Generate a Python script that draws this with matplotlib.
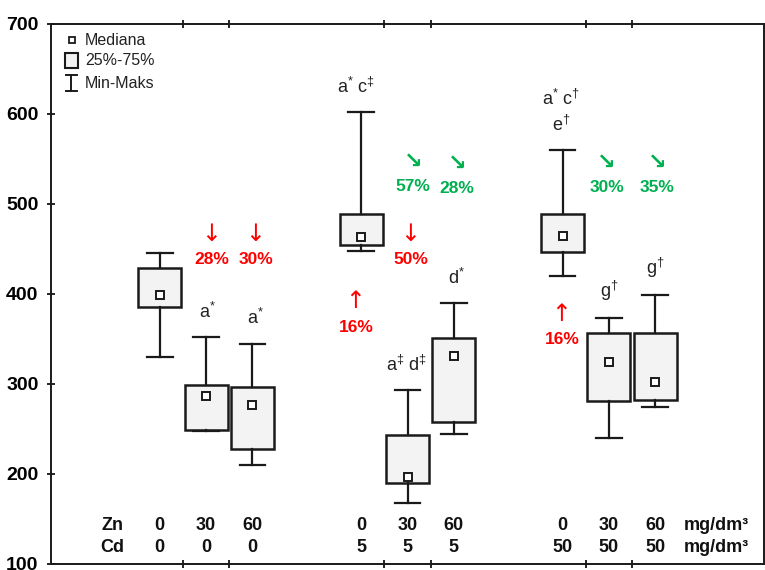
import matplotlib
matplotlib.use("Agg")
import matplotlib.pyplot as plt
from matplotlib.patches import Rectangle
from matplotlib import font_manager as fm

# ---------------- data ----------------
zn_labels = ["0", "30", "60", "0", "30", "60", "0", "30", "60"]
cd_labels = ["0", "0", "0", "5", "5", "5", "50", "50", "50"]
medians = [399, 287, 277, 463, 197, 331, 464, 324, 302]
q1 = [386, 249, 228, 454, 190, 258, 447, 281, 282]
q3 = [429, 299, 297, 489, 243, 351, 489, 357, 357]
mins = [330, 248, 210, 448, 168, 245, 420, 240, 275]
maxs = [446, 352, 345, 602, 293, 390, 560, 373, 399]
sig_labels = ["", "a*", "a*", "a* c‡", "a‡ d‡", "d*", "a* c†\ne†", "g†", "g†"]
# percent changes: (box index, text, direction)
pct_red = [(1, "28%", "down"), (2, "30%", "down"), (4, "50%", "down"),
           (3, "16%", "up"), (6, "16%", "up")]
pct_green = [(4, "57%"), (5, "28%"), (7, "30%"), (8, "35%")]

# ---------------- fonts ----------------
avail = {f.name for f in fm.fontManager.ttflist}
base = "Liberation Sans Narrow" if "Liberation Sans Narrow" in avail else "Liberation Sans"
plt.rcParams['font.family'] = [base, 'Liberation Sans', 'DejaVu Sans']
plt.rcParams['mathtext.fontset'] = 'custom'
plt.rcParams['mathtext.rm'] = 'Liberation Sans'
plt.rcParams['mathtext.it'] = 'Liberation Sans'

RED = "#FF0000"
GREEN = "#00B050"

fig = plt.figure(figsize=(7.65, 5.70), dpi=100)
ax = fig.add_axes([51/765, 6/570, 713/765, 540/570])

group_starts = [2.35, 6.7, 11.05]
pos = [g + i for g in group_starts for i in range(3)]

stats = []
for i in range(9):
    stats.append(dict(med=medians[i], q1=q1[i], q3=q3[i],
                      whislo=mins[i], whishi=maxs[i], fliers=[]))
ax.bxp(stats, positions=pos, widths=0.93, capwidths=0.55, patch_artist=True,
       showfliers=False,
       boxprops=dict(facecolor="#F3F3F3", edgecolor="#1a1a1a", linewidth=1.8),
       whiskerprops=dict(color="#1a1a1a", linewidth=1.6),
       capprops=dict(color="#1a1a1a", linewidth=1.6),
       medianprops=dict(linewidth=0))
ax.plot(pos, medians, ls="none", marker="s", ms=5.5, mfc="white",
        mec="#1a1a1a", mew=1.4, zorder=5)

ax.set_xlim(0, 15.4)
ax.set_ylim(100, 700)
ax.set_yticks(range(100, 701, 100))
ax.set_yticklabels([str(v) for v in range(100, 701, 100)],
                   fontsize=14, fontweight="bold")
tick_x = [g + 0.5 + k for g in group_starts for k in range(2)]
ax.set_xticks(tick_x)
ax.set_xticklabels([])
ax.tick_params(axis="both", direction="inout", length=6, width=1.2,
               top=True, right=False, pad=6)
for s in ax.spines.values():
    s.set_linewidth(1.4)
    s.set_color("#1a1a1a")

# significance letters
sig_off = [0, 0.02, 0.06, -0.11, -0.03, 0.05, -0.03, 0.0, 0.0]
for i, lab in enumerate(sig_labels):
    if not lab:
        continue
    lines = lab.split("\n")
    y0 = maxs[i] + 17
    for j, ln in enumerate(reversed(lines)):
        parts = ln.split(" ")
        mt = r"\ ".join(p[0] + "^{" + p[1:] + "}" for p in parts)
        ax.text(pos[i] + sig_off[i], y0 + j * 29, "$\\mathregular{" + mt + "}$",
                ha="center", va="bottom", fontsize=13, color="#222222")

# percent annotations
red_off = {1: 0.13, 2: 0.08, 4: 0.08, 3: -0.1, 6: 0.0}
red_y = {1: 438, 2: 438, 4: 438, 3: 363, 6: 349}
for i, txt, d in pct_red:
    x = pos[i] + red_off[i]
    y = red_y[i]
    ax.text(x, y, txt, ha="center", va="center", fontsize=12.5,
            fontweight="bold", color=RED, family=['Liberation Sans'])
    ax.text(x - 0.03, y + 29, "↓" if d == "down" else "↑", ha="center",
            va="center", fontsize=17, color=RED, family=['DejaVu Sans'])
green_off = {4: 0.12, 5: 0.07, 7: -0.05, 8: 0.05}
green_y = {4: 519, 5: 517, 7: 518, 8: 518}
for i, txt in pct_green:
    x = pos[i] + green_off[i]
    y = green_y[i]
    ax.text(x, y, txt, ha="center", va="center", fontsize=12.5,
            fontweight="bold", color=GREEN, family=['Liberation Sans'])
    ax.text(x, y + 28, "↘", ha="center", va="center", fontsize=16,
            fontweight="bold", color=GREEN, family=['DejaVu Sans'])

# Zn / Cd labels row
for i in range(9):
    ax.text(pos[i], 143, zn_labels[i], ha="center", va="center",
            fontsize=13, fontweight="bold", color="#111111")
    ax.text(pos[i], 118, cd_labels[i], ha="center", va="center",
            fontsize=13, fontweight="bold", color="#111111")
ax.text(1.32, 143, "Zn", ha="center", va="center", fontsize=13,
        fontweight="bold", color="#111111")
ax.text(1.32, 118, "Cd", ha="center", va="center", fontsize=13,
        fontweight="bold", color="#111111")
ax.text(14.36, 143, "mg/dm³", ha="center", va="center", fontsize=13,
        fontweight="bold", color="#111111")
ax.text(14.36, 118, "mg/dm³", ha="center", va="center", fontsize=13,
        fontweight="bold", color="#111111")

# legend (manual)
T = ax.transAxes
ax.plot([0.029], [0.970], transform=T, marker="s", ms=5, mfc="white",
        mec="#1a1a1a", mew=1.3, clip_on=False)
ax.text(0.048, 0.970, "Mediana", transform=T, va="center", ha="left",
        fontsize=11.5, color="#222222", family=['Liberation Sans'])
ax.add_patch(Rectangle((0.0195, 0.9185), 0.018, 0.0275, transform=T,
                       facecolor="#F3F3F3", edgecolor="#1a1a1a", lw=1.5))
ax.text(0.048, 0.9315, "25%-75%", transform=T, va="center", ha="left",
        fontsize=11.5, color="#222222", family=['Liberation Sans'])
ax.plot([0.0285, 0.0285], [0.876, 0.9056], transform=T, color="#1a1a1a", lw=1.4)
ax.plot([0.021, 0.036], [0.876, 0.876], transform=T, color="#1a1a1a", lw=1.4)
ax.plot([0.021, 0.036], [0.9056, 0.9056], transform=T, color="#1a1a1a", lw=1.4)
ax.text(0.048, 0.8907, "Min-Maks", transform=T, va="center", ha="left",
        fontsize=11.5, color="#222222", family=['Liberation Sans'])

fig.savefig("out.png", dpi=100)
